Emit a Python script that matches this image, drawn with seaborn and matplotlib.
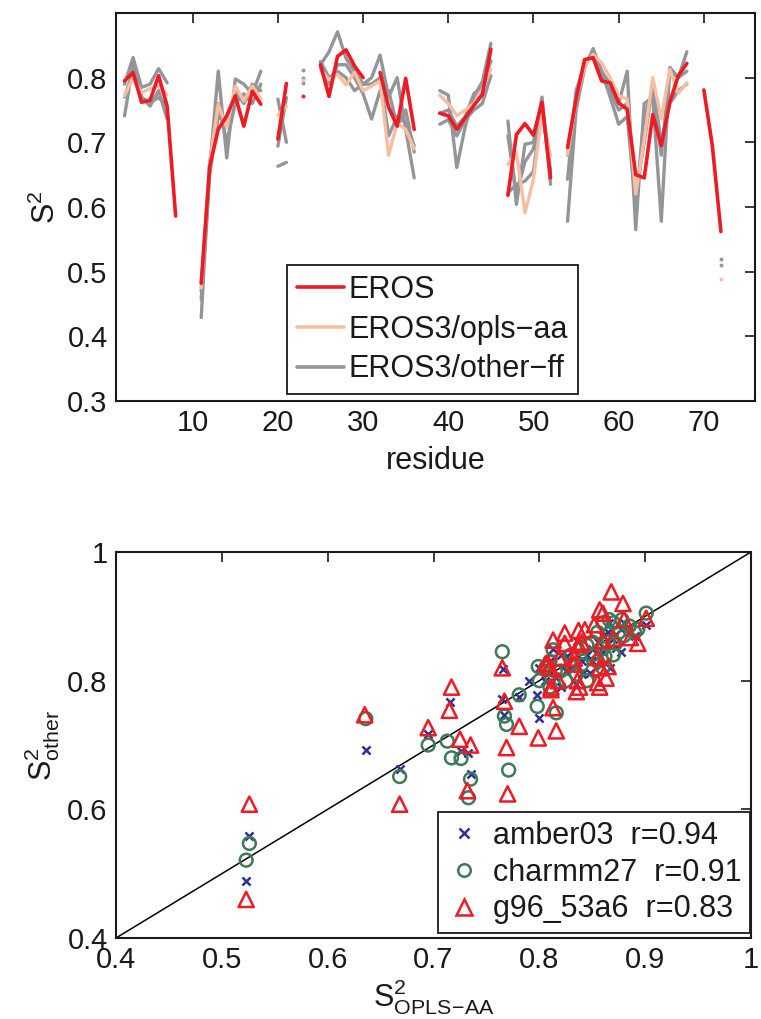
import numpy as np
import pandas as pd
import matplotlib
matplotlib.use("Agg")
import matplotlib.pyplot as plt
import seaborn as sns
from matplotlib.lines import Line2D

nan = np.nan

# ---------------- data: top panel (S2 per residue) ----------------
residue = list(range(1, 77))

eros = [nan, .795, .808, .762, .765, .803, .756, .586, nan, nan,
        .482, .663, .720, .741, .772, .725, .779, .759, nan, .705,
        .791, nan, .771, nan, .820, .771, .833, .843, .818, .800,
        nan, .808, .754, .725, .799, .720, nan, nan, .745, .741,
        .720, .738, .757, .774, .844, nan, .618, .712, .729, .711,
        .762, .645, nan, .692, .767, .828, .831, .795, .792, .761,
        .751, .650, .645, .743, .695, .762, .803, .822, nan, .781,
        .694, .562, nan, nan, nan, nan]

eros3_opls = [nan, .772, .800, .777, .783, .787, .774, nan, nan, nan,
              .475, .668, .759, .723, .787, .764, .787, .767, nan, .742,
              .756, nan, .797, nan, .813, .797, .805, .789, .808, .780,
              .787, .795, .680, .730, .720, .690, nan, nan, .773, .760,
              .741, .750, .760, .782, .813, nan, .666, .684, .591, .643,
              .746, .679, nan, .681, .765, .818, .836, .823, .800, .772,
              .767, .620, .705, .800, .736, .813, .776, .792, nan, nan,
              nan, .489, nan, nan, nan, nan]

eros3_amber = [nan, .790, .831, .785, .790, .814, .792, nan, nan, nan,
               .429, .660, .810, .676, .798, .790, .775, .810, nan, .694,
               .769, nan, .812, nan, .820, .840, .871, .830, .810, .790,
               .800, .835, .770, .800, .720, .645, nan, nan, .780, .773,
               .661, .725, .770, .794, .853, nan, .733, .604, .697, .700,
               .770, .635, nan, .578, .750, .815, .845, .810, .790, .760,
               .810, .565, .760, .770, .578, .816, .800, .840, nan, nan,
               nan, .520, nan, nan, nan, nan]

eros3_charmm = [nan, .770, .810, .770, .756, .780, .736, nan, nan, nan,
                .457, .650, .740, .730, .780, .760, .790, .780, nan, .767,
                .700, nan, .800, nan, .815, .790, .820, .820, .800, .775,
                .736, .780, .780, .725, .750, .685, nan, nan, .728, .735,
                .710, .735, .750, .760, .803, nan, .710, .620, .670, .690,
                .755, .650, nan, .643, .780, .820, .840, .810, .770, .728,
                .740, .600, .740, .780, .680, .810, .800, .810, nan, nan,
                nan, .510, nan, nan, nan, nan]

eros3_g96 = [nan, .741, .820, .769, .762, .769, .756, nan, nan, nan,
             .470, .670, .760, .700, .760, .775, .760, .790, nan, .663,
             .669, nan, .791, nan, .825, .800, .810, .800, .780, .790,
             .790, .800, .710, .740, .730, .695, nan, nan, .745, .750,
             .725, .740, .775, .787, .826, nan, .622, .635, .640, .655,
             .755, .655, nan, .680, .770, .820, .835, .800, .780, .750,
             .760, .620, .700, .790, .700, .760, .780, .790, nan, nan,
             nan, nan, nan, nan, nan, nan]

# ---------------- data: bottom panel (scatter) ----------------
amber_x = [0.523, 0.526, 0.636, 0.668, 0.695, 0.716, 0.726, 0.733, 0.735, 0.766,
           0.765, 0.767, 0.781, 0.798, 0.800, 0.813, 0.820, 0.826, 0.835, 0.820,
           0.840, 0.860, 0.877, 0.867, 0.901, 0.877, 0.872, 0.805, 0.810, 0.830,
           0.845, 0.850, 0.855, 0.860, 0.865, 0.870, 0.880, 0.885, 0.840, 0.825,
           0.815, 0.850, 0.836, 0.858, 0.848, 0.890, 0.866, 0.790, 0.800]
amber_y = [0.489, 0.559, 0.693, 0.662, 0.717, 0.767, 0.690, 0.687, 0.655, 0.818,
           0.772, 0.746, 0.775, 0.778, 0.742, 0.850, 0.840, 0.838, 0.795, 0.790,
           0.810, 0.870, 0.880, 0.820, 0.887, 0.845, 0.851, 0.800, 0.830, 0.820,
           0.840, 0.850, 0.860, 0.845, 0.875, 0.865, 0.890, 0.875, 0.830, 0.815,
           0.805, 0.830, 0.862, 0.825, 0.812, 0.870, 0.890, 0.800, 0.820]

charmm_x = [0.523, 0.526, 0.636, 0.668, 0.695, 0.713, 0.717, 0.726, 0.735, 0.733,
            0.765, 0.767, 0.769, 0.771, 0.781, 0.798, 0.799, 0.813, 0.816, 0.901,
            0.860, 0.810, 0.820, 0.830, 0.835, 0.840, 0.845, 0.850, 0.855, 0.860,
            0.865, 0.870, 0.875, 0.880, 0.885, 0.890, 0.850, 0.860, 0.870, 0.825,
            0.800, 0.815, 0.845, 0.855, 0.866, 0.878, 0.893, 0.840, 0.830, 0.862,
            0.872, 0.810, 0.806]
charmm_y = [0.521, 0.547, 0.741, 0.651, 0.700, 0.706, 0.680, 0.679, 0.647, 0.618,
            0.845, 0.745, 0.732, 0.661, 0.778, 0.760, 0.822, 0.848, 0.750, 0.905,
            0.890, 0.830, 0.815, 0.840, 0.810, 0.825, 0.855, 0.840, 0.830, 0.850,
            0.860, 0.890, 0.875, 0.870, 0.885, 0.875, 0.860, 0.820, 0.840, 0.800,
            0.800, 0.815, 0.800, 0.875, 0.895, 0.895, 0.880, 0.850, 0.825, 0.838,
            0.858, 0.790, 0.820]

g96_x = [0.523, 0.526, 0.635, 0.668, 0.695, 0.717, 0.715, 0.725, 0.735, 0.732,
         0.767, 0.765, 0.769, 0.770, 0.781, 0.799, 0.806, 0.808, 0.811, 0.813,
         0.816, 0.813, 0.824, 0.837, 0.843, 0.852, 0.857, 0.860, 0.868, 0.879,
         0.901, 0.880, 0.860, 0.870, 0.886, 0.893, 0.824, 0.837, 0.840, 0.819,
         0.833, 0.855, 0.810, 0.833, 0.857, 0.865, 0.863, 0.836, 0.818, 0.811,
         0.838, 0.855, 0.835, 0.857]
g96_y = [0.460, 0.608, 0.747, 0.608, 0.727, 0.790, 0.754, 0.709, 0.700, 0.629,
         0.768, 0.820, 0.696, 0.624, 0.729, 0.711, 0.826, 0.827, 0.786, 0.758,
         0.722, 0.863, 0.874, 0.878, 0.879, 0.887, 0.910, 0.905, 0.938, 0.920,
         0.897, 0.895, 0.863, 0.866, 0.867, 0.858, 0.858, 0.856, 0.860, 0.835,
         0.835, 0.836, 0.820, 0.826, 0.820, 0.822, 0.804, 0.800, 0.800, 0.790,
         0.790, 0.797, 0.783, 0.790]

legend_top = ["EROS", "EROS3/opls\u2212aa", "EROS3/other\u2212ff"]
legend_bottom = ["amber03  r=0.94", "charmm27  r=0.91", "g96_53a6  r=0.83"]

RED = "#ed1c24"
SALMON = "#f8bea2"
GRAY = "#939598"
NAVY = "#2e3192"
GREEN = "#3d7a56"
INK = "#1a1a1a"

# ---------------- style ----------------
sns.set_theme(style="white")
plt.rcParams["font.family"] = ["Liberation Sans", "DejaVu Sans"]
plt.rcParams["mathtext.fontset"] = "custom"
plt.rcParams["mathtext.rm"] = "Liberation Sans"
plt.rcParams["mathtext.it"] = "Liberation Sans"
plt.rcParams["mathtext.bf"] = "Liberation Sans:bold"
plt.rcParams["axes.unicode_minus"] = True

FS = 21
LFS = 22

fig = plt.figure(figsize=(7.61, 10.19), dpi=100)
W, H = 761.0, 1019.0


def axes_px(left, top, right, bottom):
    return fig.add_axes([left / W, 1 - bottom / H, (right - left) / W, (bottom - top) / H])


ax1 = axes_px(116, 13, 755, 401)
ax2 = axes_px(116, 552, 751, 938)


def long_frame(values):
    v = np.asarray(values, dtype=float)
    seg = np.cumsum(np.isnan(v))
    df = pd.DataFrame({"residue": residue, "S2": v, "seg": seg})
    return df.dropna()


def isolated(values):
    v = np.asarray(values, dtype=float)
    left = np.r_[nan, v[:-1]]
    right = np.r_[v[1:], nan]
    mask = ~np.isnan(v) & np.isnan(left) & np.isnan(right)
    return pd.DataFrame({"residue": np.asarray(residue)[mask], "S2": v[mask]})


series = [(eros3_amber, GRAY, 2.4), (eros3_charmm, GRAY, 2.4), (eros3_g96, GRAY, 2.4),
          (eros3_opls, SALMON, 2.4), (eros, RED, 2.6)]
for vals, col, lw in series:
    df = long_frame(vals)
    sns.lineplot(data=df, x="residue", y="S2", units="seg", estimator=None,
                 color=col, lw=lw, ax=ax1, legend=False)
    iso = isolated(vals)
    if len(iso):
        sns.scatterplot(data=iso, x="residue", y="S2", color=col, s=8,
                        linewidth=0, ax=ax1, legend=False)

ax1.set_xlim(1, 76)
ax1.set_ylim(0.3, 0.9)
ax1.set_xticks([10, 20, 30, 40, 50, 60, 70])
ax1.set_yticks([0.3, 0.4, 0.5, 0.6, 0.7, 0.8])
ax1.set_yticklabels(["0.3", "0.4", "0.5", "0.6", "0.7", "0.8"])
ax1.set_xlabel("residue", fontsize=LFS, labelpad=6)
ax1.set_ylabel(r"S$^{2}$", fontsize=LFS, labelpad=4)

handles_top = [Line2D([], [], color=RED, lw=2.6),
               Line2D([], [], color=SALMON, lw=2.6),
               Line2D([], [], color=GRAY, lw=2.6)]
leg1 = ax1.legend(handles_top, legend_top, loc="upper left",
                  bbox_to_anchor=(287 / W, 1 - 265 / H), bbox_transform=fig.transFigure,
                  borderaxespad=0, fontsize=LFS, frameon=True, fancybox=False,
                  handlelength=1.55, handletextpad=0.15, labelspacing=0.32,
                  borderpad=0.32)
leg1.get_frame().set_edgecolor(INK)
leg1.get_frame().set_linewidth(1.3)
leg1.get_frame().set_alpha(1)
for t in leg1.get_texts():
    t.set_color(INK)

# bottom scatter
ax2.axline((0.4, 0.4), slope=1, color="black", lw=1.1, zorder=1)
sc_a = pd.DataFrame({"x": amber_x, "y": amber_y})
sc_c = pd.DataFrame({"x": charmm_x, "y": charmm_y})
sc_g = pd.DataFrame({"x": g96_x, "y": g96_y})
sns.scatterplot(data=sc_a, x="x", y="y", marker="x", color=NAVY, s=34,
                linewidth=1.8, ax=ax2, legend=False, zorder=3)
sns.scatterplot(data=sc_c, x="x", y="y", marker="o", color=GREEN, facecolor="none",
                edgecolor=GREEN, s=85, linewidth=1.8, ax=ax2, legend=False, zorder=3)
sns.scatterplot(data=sc_g, x="x", y="y", marker="^", color=RED, facecolor="none",
                edgecolor=RED, s=120, linewidth=1.8, ax=ax2, legend=False, zorder=4)

ax2.set_xlim(0.4, 1.0)
ax2.set_ylim(0.4, 1.0)
ax2.set_xticks([0.4, 0.5, 0.6, 0.7, 0.8, 0.9, 1.0])
ax2.set_xticklabels(["0.4", "0.5", "0.6", "0.7", "0.8", "0.9", "1"])
ax2.set_yticks([0.4, 0.6, 0.8, 1.0])
ax2.set_yticklabels(["0.4", "0.6", "0.8", "1"])
ax2.set_xlabel(r"S$^{2}_{\mathrm{OPLS\!-\!AA}}$", fontsize=LFS, labelpad=2)
ax2.set_ylabel(r"S$^{2}_{\mathrm{other}}$", fontsize=LFS, labelpad=4)

handles_bot = [Line2D([], [], ls="none", marker="x", color=NAVY, ms=6.5, mew=1.8),
               Line2D([], [], ls="none", marker="o", mfc="none", mec=GREEN, ms=9, mew=1.8),
               Line2D([], [], ls="none", marker="^", mfc="none", mec=RED, ms=11, mew=1.8)]
leg2 = ax2.legend(handles_bot, legend_bottom, loc="lower right",
                  bbox_to_anchor=(750 / W, 1 - 933 / H), bbox_transform=fig.transFigure,
                  borderaxespad=0, fontsize=LFS, frameon=True, fancybox=False,
                  handlelength=1.1, handletextpad=0.4, labelspacing=0.22,
                  borderpad=0.28)
leg2.get_frame().set_edgecolor(INK)
leg2.get_frame().set_linewidth(1.3)
leg2.get_frame().set_alpha(1)
for t in leg2.get_texts():
    t.set_color(INK)

for ax in (ax1, ax2):
    ax.tick_params(direction="in", top=True, right=True, length=7, width=1.2,
                   labelsize=FS, colors=INK, pad=6)
    for sp in ax.spines.values():
        sp.set_color(INK)
        sp.set_linewidth(1.5)
    ax.xaxis.label.set_color(INK)
    ax.yaxis.label.set_color(INK)
    ax.grid(False)

fig.savefig("out.png", dpi=100, facecolor="white")
